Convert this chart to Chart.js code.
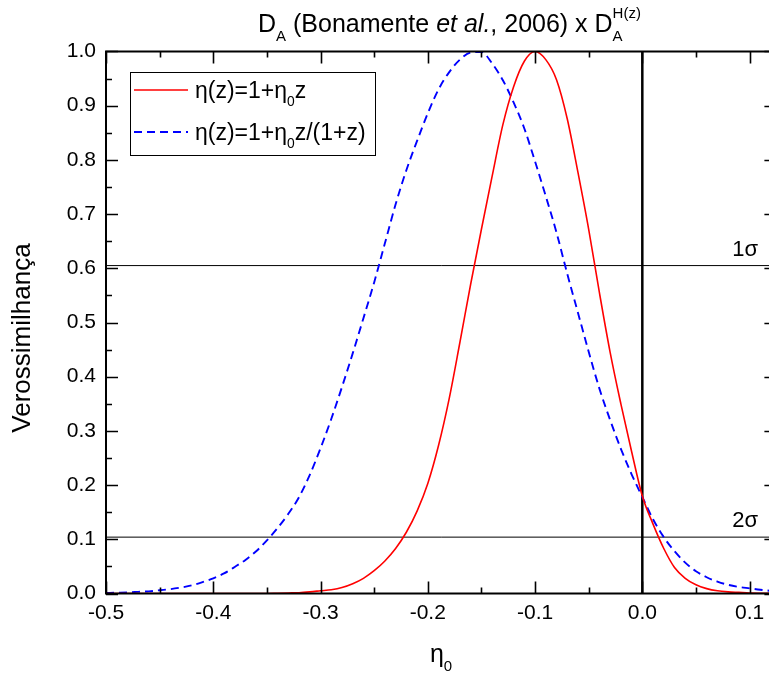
<!DOCTYPE html>
<html>
<head>
<meta charset="utf-8">
<script src="https://cdn.jsdelivr.net/npm/chart.js@4.4.0/dist/chart.umd.min.js"></script>
<style>
  html, body { margin: 0; padding: 0; background: #fff; overflow: hidden; }
</style>
</head>
<body>
<canvas id="grafico" width="790" height="682"></canvas>
<script>
// valores de eta_0 (eixo x)
const eta0 = [
  -0.50, -0.49, -0.48, -0.47, -0.46, -0.45, -0.44, -0.43, -0.42, -0.41,
  -0.40, -0.39, -0.38, -0.37, -0.36, -0.35, -0.34, -0.33, -0.32, -0.31,
  -0.30, -0.29, -0.28, -0.27, -0.26, -0.25, -0.24, -0.23, -0.22, -0.21,
  -0.20, -0.19, -0.18, -0.17, -0.16, -0.15, -0.14, -0.13, -0.12, -0.11,
  -0.10, -0.09, -0.08, -0.07, -0.06, -0.05, -0.04, -0.03, -0.02, -0.01,
   0.00,  0.01,  0.02,  0.03,  0.04,  0.05,  0.06,  0.07,  0.08,  0.09,
   0.10,  0.11,  0.12,  0.13
];

// eta(z) = 1 + eta0 z  (linha vermelha)
const verossLinear = [
  0, 0, 0, 0, 0, 0, 0, 0, 0, 0,
  0, 0, 0, 0, 0, 0, 0.0005, 0.001, 0.0015, 0.003,
  0.005, 0.007, 0.011, 0.018, 0.028, 0.042, 0.060, 0.083, 0.113, 0.152,
  0.203, 0.273, 0.360, 0.464, 0.571, 0.672, 0.770, 0.865, 0.935, 0.982,
  1.000, 0.985, 0.948, 0.876, 0.777, 0.672, 0.555, 0.445, 0.350, 0.262,
  0.180, 0.128, 0.083, 0.048, 0.028, 0.016, 0.009, 0.005, 0.003, 0.002,
  0.001, 0.0005, 0.0002, 0
];

// eta(z) = 1 + eta0 z/(1+z)  (linha azul tracejada)
const verossRazao = [
  0.001, 0.0015, 0.002, 0.003, 0.004, 0.006, 0.008, 0.011, 0.015, 0.021,
  0.028, 0.037, 0.049, 0.062, 0.078, 0.098, 0.121, 0.147, 0.178, 0.219,
  0.268, 0.322, 0.381, 0.443, 0.508, 0.574, 0.646, 0.718, 0.781, 0.835,
  0.886, 0.930, 0.962, 0.985, 0.998, 0.999, 0.978, 0.947, 0.906, 0.858,
  0.797, 0.733, 0.666, 0.590, 0.518, 0.446, 0.378, 0.320, 0.267, 0.220,
  0.178, 0.137, 0.104, 0.078, 0.057, 0.041, 0.030, 0.022, 0.016, 0.012,
  0.0095, 0.007, 0.005, 0.004
];

// niveis de confianca
const sigmaNiveis = [0.605, 0.104];
const sigmaRotulos = ['1σ', '2σ'];

// ticks
const xTicks = [-0.5, -0.4, -0.3, -0.2, -0.1, 0.0, 0.1];
const xTickLabels = ['-0.5', '-0.4', '-0.3', '-0.2', '-0.1', '0.0', '0.1'];
const yTicks = [0.0, 0.1, 0.2, 0.3, 0.4, 0.5, 0.6, 0.7, 0.8, 0.9, 1.0];
const yTickLabels = ['0.0', '0.1', '0.2', '0.3', '0.4', '0.5', '0.6', '0.7', '0.8', '0.9', '1.0'];

const X_MIN = -0.5, X_MAX = 0.125;
const FONTE = '"Liberation Sans", Arial, sans-serif';

function pontos(ys) {
  return eta0.map((x, i) => ({ x: x, y: ys[i] }));
}

function fonte(p, size) {
  const s = (p.sub || p.sup) ? size * 0.6 : size;
  return (p.italic ? 'italic ' : '') + s + 'px ' + FONTE;
}

// texto com subscrito / sobrescrito (sup com "junto" fica em cima do sub anterior)
function textoRico(ctx, partes, x, y, size) {
  let cx = x, inicioSub = x;
  ctx.textAlign = 'left';
  ctx.textBaseline = 'alphabetic';
  partes.forEach(p => {
    ctx.font = fonte(p, size);
    const w = ctx.measureText(p.t).width;
    const dy = p.sub ? size * 0.36 : (p.sup ? -size * 0.58 : 0);
    let px = cx;
    if (p.sup && p.junto) px = inicioSub;
    if (p.sub) inicioSub = cx;
    ctx.fillText(p.t, px, y + dy);
    cx = Math.max(cx, px + w);
  });
  return cx;
}

function larguraRica(ctx, partes, size) {
  let w = 0;
  partes.forEach(p => { ctx.font = fonte(p, size); w += ctx.measureText(p.t).width; });
  return w;
}

const molduraPlugin = {
  id: 'moldura',
  afterDatasetsDraw(chart) {
    const ctx = chart.ctx;
    const a = chart.chartArea;
    const sx = chart.scales.x, sy = chart.scales.y;
    ctx.save();
    ctx.fillStyle = '#000';
    ctx.strokeStyle = '#000';

    // moldura
    ctx.lineWidth = 2;
    ctx.strokeRect(a.left, a.top, a.right - a.left, a.bottom - a.top);

    // ticks para dentro (maiores e menores)
    ctx.lineWidth = 1.6;
    ctx.beginPath();
    for (let v = -0.5; v <= X_MAX + 1e-9; v += 0.05) {
      const px = Math.round(sx.getPixelForValue(v)) + 0.5;
      const maior = Math.abs(Math.round(v * 10) - v * 10) < 1e-6;
      const len = maior ? 12 : 6;
      ctx.moveTo(px, a.bottom); ctx.lineTo(px, a.bottom - len);
      ctx.moveTo(px, a.top); ctx.lineTo(px, a.top + len);
    }
    for (let v = 0; v <= 1.0001; v += 0.05) {
      const py = Math.round(sy.getPixelForValue(v)) + 0.5;
      const maior = Math.abs(Math.round(v * 10) - v * 10) < 1e-6;
      const len = maior ? 12 : 6;
      ctx.moveTo(a.left, py); ctx.lineTo(a.left + len, py);
      ctx.moveTo(a.right, py); ctx.lineTo(a.right - len, py);
    }
    ctx.stroke();

    // rotulos dos ticks
    ctx.font = '21px ' + FONTE;
    ctx.textAlign = 'center';
    ctx.textBaseline = 'top';
    xTicks.forEach((v, i) => {
      ctx.fillText(xTickLabels[i], sx.getPixelForValue(v), a.bottom + 9);
    });
    ctx.textAlign = 'right';
    ctx.textBaseline = 'middle';
    yTicks.forEach((v, i) => {
      ctx.fillText(yTickLabels[i], a.left - 10, sy.getPixelForValue(v));
    });

    // rotulos 1σ / 2σ
    ctx.font = '22px ' + FONTE;
    ctx.textAlign = 'right';
    ctx.textBaseline = 'alphabetic';
    sigmaNiveis.forEach((s, i) => {
      ctx.fillText(sigmaRotulos[i], 758, sy.getPixelForValue(s) - 10);
    });

    // titulo
    textoRico(ctx, [
      { t: 'D' }, { t: 'A', sub: true }, { t: ' (Bonamente ' }, { t: 'et al.', italic: true },
      { t: ', 2006) x D' }, { t: 'A', sub: true }, { t: 'H(z)', sup: true, junto: true }
    ], 258, 32, 25);

    // titulo eixo x
    const px0 = [{ t: 'η' }, { t: '0', sub: true }];
    textoRico(ctx, px0, 441 - larguraRica(ctx, px0, 25) / 2, 662, 25);

    // titulo eixo y
    ctx.save();
    ctx.translate(23, 338);
    ctx.rotate(-Math.PI / 2);
    ctx.font = '26px ' + FONTE;
    ctx.textAlign = 'center';
    ctx.textBaseline = 'middle';
    ctx.fillText('Verossimilhança', 0, 0);
    ctx.restore();

    // legenda
    ctx.lineWidth = 1;
    ctx.strokeRect(130.5, 72.5, 245, 83);
    ctx.lineWidth = 1.5;
    ctx.strokeStyle = '#ff0000';
    ctx.beginPath(); ctx.moveTo(134, 90); ctx.lineTo(188, 90); ctx.stroke();
    ctx.strokeStyle = '#0000ff';
    ctx.lineWidth = 1.8;
    ctx.setLineDash([8, 5]);
    ctx.beginPath(); ctx.moveTo(134, 132); ctx.lineTo(188, 132); ctx.stroke();
    ctx.setLineDash([]);
    ctx.fillStyle = '#000';
    textoRico(ctx, [{ t: 'η(z)=1+η' }, { t: '0', sub: true }, { t: 'z' }], 195, 98, 23);
    textoRico(ctx, [{ t: 'η(z)=1+η' }, { t: '0', sub: true }, { t: 'z/(1+z)' }], 195, 140, 23);

    ctx.restore();
  }
};

new Chart(document.getElementById('grafico'), {
  type: 'line',
  data: {
    datasets: [
      {
        label: 'η(z)=1+η0z',
        data: pontos(verossLinear),
        borderColor: '#ff0000',
        borderWidth: 1.6,
        pointRadius: 0,
        cubicInterpolationMode: 'monotone',
        fill: false
      },
      {
        label: 'η(z)=1+η0z/(1+z)',
        data: pontos(verossRazao),
        borderColor: '#0000ff',
        borderWidth: 1.9,
        borderDash: [8, 5],
        pointRadius: 0,
        cubicInterpolationMode: 'monotone',
        fill: false
      },
      {
        label: '1σ',
        data: [{ x: X_MIN, y: sigmaNiveis[0] }, { x: X_MAX, y: sigmaNiveis[0] }],
        borderColor: '#000',
        borderWidth: 1,
        pointRadius: 0
      },
      {
        label: '2σ',
        data: [{ x: X_MIN, y: sigmaNiveis[1] }, { x: X_MAX, y: sigmaNiveis[1] }],
        borderColor: '#000',
        borderWidth: 1,
        pointRadius: 0
      },
      {
        label: 'zero',
        data: [{ x: 0, y: 0 }, { x: 0, y: 1 }],
        borderColor: '#000',
        borderWidth: 2.5,
        pointRadius: 0
      }
    ]
  },
  options: {
    responsive: false,
    animation: false,
    layout: { padding: { top: 51.5, right: 13.6, left: 0, bottom: 0 } },
    plugins: {
      legend: { display: false },
      tooltip: { enabled: false },
      title: { display: false }
    },
    scales: {
      x: {
        type: 'linear',
        min: X_MIN,
        max: X_MAX,
        ticks: { display: false },
        grid: { display: false },
        border: { display: false },
        afterFit: s => { s.height = 88.5; }
      },
      y: {
        min: 0,
        max: 1,
        ticks: { display: false },
        grid: { display: false },
        border: { display: false },
        afterFit: s => { s.width = 106; }
      }
    }
  },
  plugins: [molduraPlugin]
});
</script>
</body>
</html>
